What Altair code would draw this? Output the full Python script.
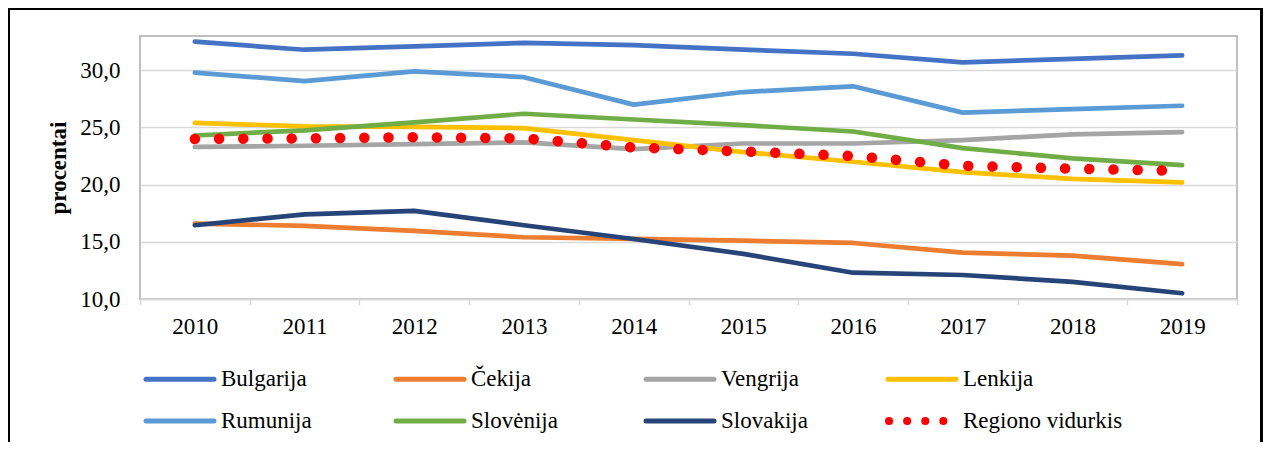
import altair as alt
import pandas as pd

years = ["2010", "2011", "2012", "2013", "2014", "2015", "2016", "2017", "2018", "2019"]
series_names = ["Bulgarija", "Čekija", "Vengrija", "Lenkija",
                "Rumunija", "Slovėnija", "Slovakija", "Regiono vidurkis"]
colors = ["#4472C4", "#ED7D31", "#A5A5A5", "#FFC000",
          "#5B9BD5", "#70AD47", "#264478", "#FF0000"]

bulgarija = [32.5, 31.8, 32.1, 32.4, 32.2, 31.8, 31.45, 30.7, 31.0, 31.3]
cekija = [16.6, 16.4, 15.95, 15.4, 15.25, 15.1, 14.9, 14.05, 13.8, 13.05]
vengrija = [23.3, 23.4, 23.55, 23.7, 23.1, 23.6, 23.6, 23.9, 24.4, 24.6]
lenkija = [25.4, 25.1, 25.05, 24.95, 23.9, 22.85, 22.0, 21.1, 20.5, 20.2]
rumunija = [29.8, 29.05, 29.9, 29.4, 27.0, 28.1, 28.6, 26.3, 26.6, 26.9]
slovenija = [24.3, 24.75, 25.45, 26.2, 25.7, 25.2, 24.65, 23.2, 22.3, 21.7]
slovakija = [16.45, 17.4, 17.7, 16.45, 15.25, 13.95, 12.3, 12.1, 11.5, 10.5]
regionas = [24.0, 24.05, 24.15, 24.05, 23.25, 22.9, 22.5, 21.65, 21.4, 21.2]

all_values = [bulgarija, cekija, vengrija, lenkija, rumunija, slovenija, slovakija, regionas]

rows = []
for name, vals in zip(series_names, all_values):
    for yr, v in zip(years, vals):
        rows.append({"series": name, "year": yr, "value": v})
df = pd.DataFrame(rows)
countries = df[df["series"] != "Regiono vidurkis"]
regional = df[df["series"] == "Regiono vidurkis"]

FONT = "Liberation Serif"
FS = 23

x_enc = alt.X(
    "year:O",
    bandPosition=0.5,
    scale=alt.Scale(type="band", paddingInner=0, paddingOuter=0),
    axis=alt.Axis(
        title=None, labelAngle=0, tickBand="extent", tickSize=6,
        tickColor="#D9D9D9", tickWidth=1.5, domainColor="#D9D9D9", domainWidth=1.5,
        labelFont=FONT, labelFontSize=FS, labelColor="black", labelPadding=10,
        grid=False,
    ),
)
y_enc = alt.Y(
    "value:Q",
    scale=alt.Scale(domain=[10, 33], nice=False, zero=False),
    axis=alt.Axis(
        values=[10, 15, 20, 25, 30],
        labelExpr="replace(format(datum.value, '.1f'), '.', ',')",
        labelFont=FONT, labelFontSize=FS, labelColor="black", labelPadding=20,
        tickSize=0, domain=False,
        gridColor="#D9D9D9", gridWidth=1.5,
        title="procentai", titleFont=FONT, titleFontSize=FS, titleFontWeight="bold",
        titleColor="black", titleX=-82, titleY=131.5, titleAngle=270,
        titleAlign="center", titleBaseline="middle",
    ),
)

lines = alt.Chart(countries).mark_line(
    strokeWidth=4.7, strokeCap="round", strokeJoin="round"
).encode(
    x=x_enc, y=y_enc,
    color=alt.Color("series:N", scale=alt.Scale(domain=series_names[:7], range=colors[:7]), legend=None),
)

reg_line = alt.Chart(regional).mark_line(
    color="#FF0000", strokeWidth=10.5, strokeCap="round", strokeDash=[0.1, 24.1]
).encode(x=x_enc, y=y_enc)

one = pd.DataFrame({"k": [0]})
layers = [lines, reg_line]

# legend (2 rows x 4 columns)
leg_x = [4, 254, 504, 746]
leg_y = [343.3, 385]
for i, (name, col) in enumerate(zip(series_names, colors)):
    cx = leg_x[i % 4]
    cy = leg_y[i // 4]
    if name == "Regiono vidurkis":
        sym = alt.Chart(one).mark_rule(
            color=col, strokeWidth=8, strokeCap="round", strokeDash=[0.1, 18]
        ).encode(x=alt.value(cx + 3), x2=alt.value(cx + 60), y=alt.value(cy))
    else:
        sym = alt.Chart(one).mark_rule(
            color=col, strokeWidth=5, strokeCap="round"
        ).encode(x=alt.value(cx + 2), x2=alt.value(cx + 70), y=alt.value(cy))
    txt = alt.Chart(one).mark_text(
        align="left", baseline="middle", font=FONT, fontSize=FS, color="black"
    ).encode(x=alt.value(cx + 77), y=alt.value(cy), text=alt.value(name))
    layers += [sym, txt]

frame = alt.Chart(one).mark_rect(
    filled=False, stroke="black", strokeWidth=3
).encode(x=alt.value(-131.5), x2=alt.value(1121.5), y=alt.value(-27.5), y2=alt.value(700))
layers.append(frame)

chart = alt.layer(*layers).properties(
    width=1097, height=263,
    autosize=alt.AutoSizeParams(type="none"),
    padding={"left": 132, "top": 28, "right": 26, "bottom": 143},
    background="white",
).configure_view(stroke="#BFBFBF", strokeWidth=2)

chart.save("out.html", embed_options={"renderer": "svg", "actions": False})
